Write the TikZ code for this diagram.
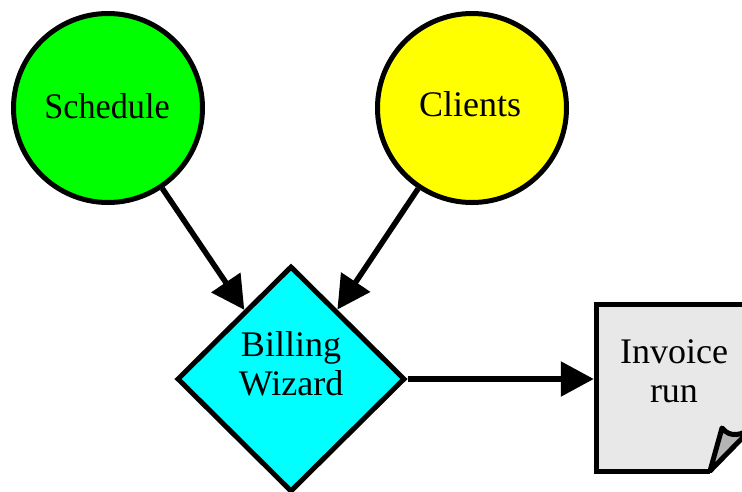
\documentclass[tikz,border=0pt]{standalone}
\usepackage{fontspec}
\setmainfont{Liberation Serif}
\usetikzlibrary{shapes.geometric,arrows.meta}
\definecolor{schedgreen}{HTML}{00FF00}
\definecolor{clientyellow}{HTML}{FFFF00}
\definecolor{wizcyan}{HTML}{00FFFF}
\definecolor{docgray}{HTML}{E8E8E8}
\definecolor{foldgray}{HTML}{B4B4B4}
\begin{document}
\begin{tikzpicture}[x=1pt,y=-1pt,
  every node/.style={font=\fontsize{36}{39}\selectfont},
  bubble/.style={circle,draw=black,line width=5pt,minimum size=189pt,inner sep=0pt},
  decision/.style={diamond,draw=black,line width=5pt,fill=wizcyan,minimum width=228pt,minimum height=226pt,inner sep=0pt},
  doctext/.style={align=center,inner sep=0pt},
  docshape/.style={draw=black,line width=5pt,line join=miter},
  conn/.style={draw=black,line width=5.5pt,-{Triangle[length=33pt,width=34pt]}}]
\useasboundingbox (0,0) rectangle (742,491);
\node[bubble,fill=schedgreen] (sched) at (108,108) {};
\node[xscale=0.95] at (107,106) (schedt) {Schedule};
\node[bubble,fill=clientyellow] (cli) at (472,108) {};
\node at (470,104) (clit) {Clients};
\node[decision] (wiz) at (291,379) {};
\node[doctext] (wizt) at (291,364) {Billing\\Wizard};
% document
\node[minimum width=158pt,minimum height=171pt,inner sep=0pt] (doc) at (673,387.5) {};
\fill[docgray] (596,304) -- (755,304) -- (755,425) -- (710,471) -- (596,471) -- cycle;
\draw[docshape] (755,304) -- (596,304) -- (596,471) -- (710,471);
\filldraw[fill=foldgray,docshape,line join=round] (710,471) -- (722,428) .. controls (730,438) and (742,436) .. (754,426) -- cycle;
\node[doctext] (doct) at (674,371) {Invoice\\run};
\draw[conn] (sched) -- (wiz);
\draw[conn] (cli) -- (wiz);
\draw[conn] (wiz.east) -- (doc.west |- wiz.east);
\end{tikzpicture}
\end{document}
